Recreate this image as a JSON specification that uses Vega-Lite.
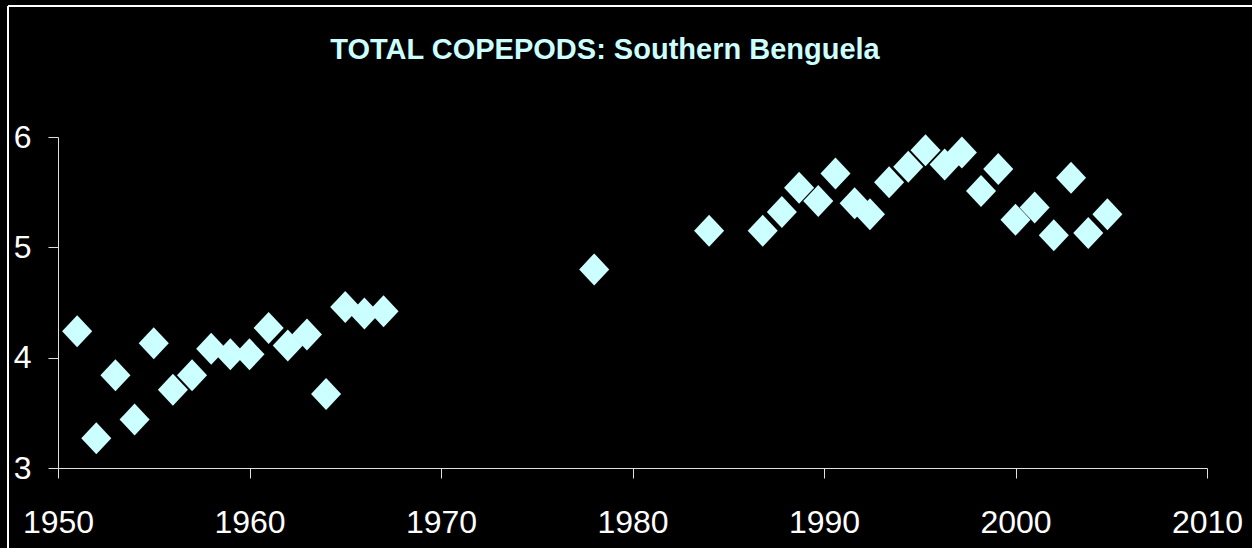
{
  "$schema": "https://vega.github.io/schema/vega-lite/v6.json",
  "width": 1244,
  "height": 542,
  "autosize": "none",
  "padding": {"left": 8, "top": 6, "right": 0, "bottom": 0},
  "background": "#000000",
  "title": {
    "text": "TOTAL COPEPODS: Southern Benguela",
    "anchor": "middle",
    "frame": "group",
    "offset": -82,
    "baseline": "alphabetic",
    "dx": -25,
    "font": "'Liberation Sans', Arial, sans-serif",
    "fontSize": 29,
    "fontWeight": "bold",
    "color": "#CCFFFF"
  },
  "data": {
    "values": [
      {"year": 1951, "value": 4.24},
      {"year": 1952, "value": 3.27},
      {"year": 1953, "value": 3.84},
      {"year": 1954, "value": 3.44},
      {"year": 1955, "value": 4.13},
      {"year": 1956, "value": 3.71},
      {"year": 1957, "value": 3.84},
      {"year": 1958, "value": 4.08},
      {"year": 1959, "value": 4.03},
      {"year": 1960, "value": 4.03},
      {"year": 1961, "value": 4.27},
      {"year": 1962, "value": 4.11},
      {"year": 1963, "value": 4.21},
      {"year": 1964, "value": 3.67},
      {"year": 1965, "value": 4.46},
      {"year": 1966, "value": 4.40},
      {"year": 1967, "value": 4.42},
      {"year": 1978, "value": 4.80},
      {"year": 1984, "value": 5.15},
      {"year": 1986.8, "value": 5.15},
      {"year": 1987.8, "value": 5.32},
      {"year": 1988.7, "value": 5.54},
      {"year": 1989.7, "value": 5.42},
      {"year": 1990.6, "value": 5.67},
      {"year": 1991.6, "value": 5.40},
      {"year": 1992.4, "value": 5.30},
      {"year": 1993.4, "value": 5.59},
      {"year": 1994.4, "value": 5.73},
      {"year": 1995.3, "value": 5.88},
      {"year": 1996.3, "value": 5.75},
      {"year": 1997.2, "value": 5.86},
      {"year": 1998.2, "value": 5.51},
      {"year": 1999.1, "value": 5.71},
      {"year": 2000.0, "value": 5.25},
      {"year": 2001.0, "value": 5.36},
      {"year": 2002.0, "value": 5.11},
      {"year": 2002.9, "value": 5.63},
      {"year": 2003.8, "value": 5.13},
      {"year": 2004.8, "value": 5.30}
    ]
  },
  "mark": {
    "type": "point",
    "shape": "M-0.94,0L0,-1L0.94,0L0,1Z",
    "filled": true,
    "color": "#CCFFFF",
    "opacity": 1,
    "size": 1024
  },
  "encoding": {
    "x": {
      "field": "year",
      "type": "quantitative",
      "scale": {"domain": [1950, 2010], "range": [50, 1199], "zero": false, "nice": false},
      "axis": {
        "values": [1950, 1960, 1970, 1980, 1990, 2000, 2010],
        "format": "d",
        "title": null,
        "grid": false,
        "offset": -80,
        "tickSize": 10,
        "labelPadding": 29,
        "labelFlush": false,
        "labelOverlap": false
      }
    },
    "y": {
      "field": "value",
      "type": "quantitative",
      "scale": {"domain": [3, 6], "range": [462, 131], "zero": false, "nice": false},
      "axis": {
        "values": [3, 4, 5, 6],
        "format": "d",
        "title": null,
        "grid": false,
        "offset": -50,
        "tickSize": 10,
        "labelPadding": 17,
        "labelFlush": false,
        "labelOverlap": false
      }
    }
  },
  "config": {
    "view": {"stroke": "#ffffff", "strokeWidth": 2, "strokeDash": [1244, 1786, 542, 0]},
    "axis": {
      "domainColor": "#e0e0e0",
      "domainWidth": 1,
      "tickColor": "#e0e0e0",
      "tickWidth": 1,
      "labelColor": "#ffffff",
      "labelFont": "'Liberation Sans', Arial, sans-serif",
      "labelFontSize": 32,
      "labelFontWeight": "normal"
    }
  }
}
